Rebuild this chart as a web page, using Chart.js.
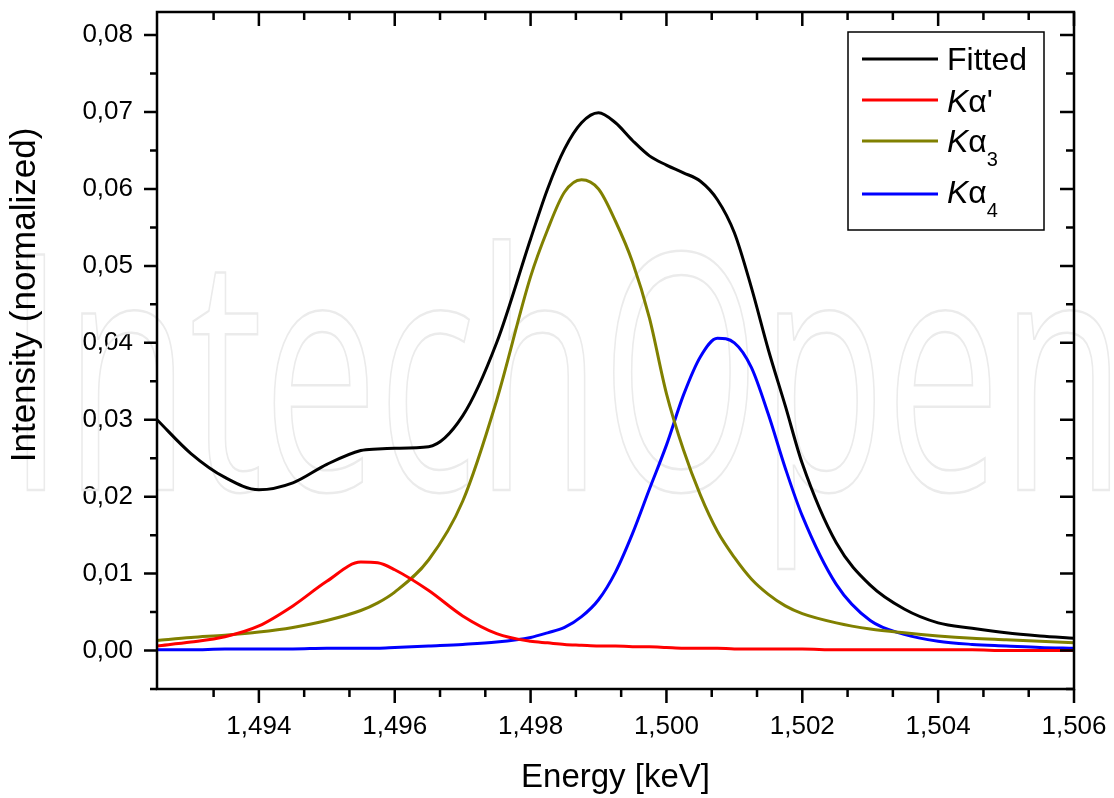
<!DOCTYPE html>
<html>
<head>
<meta charset="utf-8">
<script src="https://cdn.jsdelivr.net/npm/chart.js@4.4.0/dist/chart.umd.min.js"></script>
<style>
  body { margin: 0; background: #fff; }
</style>
</head>
<body>
<canvas id="spectrum" width="1114" height="798"></canvas>
<script>
// energy grid (keV) and the four curves
var energy = [1.4925, 1.493, 1.4935, 1.494, 1.4945, 1.495, 1.4955, 1.49575, 1.496, 1.4965,
              1.497, 1.4975, 1.498, 1.49825, 1.4985, 1.49875, 1.499, 1.49925, 1.4995, 1.49975,
              1.5, 1.50025, 1.5005, 1.50075, 1.501, 1.50125, 1.5015, 1.50175, 1.502, 1.5025,
              1.503, 1.5035, 1.504, 1.5045, 1.505, 1.5055, 1.506];
var fitted = [0.0300, 0.0256, 0.0225, 0.0209, 0.0218, 0.0242, 0.0260, 0.0262, 0.0263, 0.0265,
              0.0305, 0.0400, 0.0535, 0.0600, 0.0652, 0.0686, 0.0699, 0.0686, 0.0663, 0.0643,
              0.0631, 0.0621, 0.0610, 0.0586, 0.0543, 0.0472, 0.0391, 0.0318, 0.0243, 0.0140,
              0.0085, 0.0054, 0.0036, 0.0029, 0.0023, 0.0019, 0.0016];
var kaPrime = [0.0006, 0.0011, 0.0018, 0.0032, 0.0058, 0.0090, 0.0115, 0.0114, 0.0105, 0.0078,
               0.0045, 0.0022, 0.0012, 0.0010, 0.0008, 0.0007, 0.0006, 0.0006, 0.0005, 0.0005,
               0.0004, 0.0003, 0.0003, 0.0003, 0.0002, 0.0002, 0.0002, 0.0002, 0.0002, 0.0001,
               0.0001, 0.0001, 0.0001, 0.0001, 0.0000, 0.0000, 0.0000];
var ka3 = [0.0013, 0.0017, 0.0020, 0.0024, 0.0030, 0.0039, 0.0052, 0.0062, 0.0076, 0.0118,
           0.0194, 0.0325, 0.0486, 0.0547, 0.0596, 0.0612, 0.0600, 0.0558, 0.0505, 0.0432,
           0.0334, 0.0261, 0.0202, 0.0155, 0.0121, 0.0093, 0.0073, 0.0058, 0.0048, 0.0036,
           0.0028, 0.0023, 0.0019, 0.0016, 0.0014, 0.0012, 0.0010];
var ka4 = [0.0001, 0.0001, 0.0002, 0.0002, 0.0002, 0.0003, 0.0003, 0.0003, 0.0004, 0.0006,
           0.0008, 0.0011, 0.0017, 0.0023, 0.0030, 0.0044, 0.0066, 0.0102, 0.0152, 0.0210,
           0.0267, 0.0332, 0.0382, 0.0406, 0.0400, 0.0368, 0.0307, 0.0237, 0.0175, 0.0086,
           0.0039, 0.0021, 0.0012, 0.0008, 0.0006, 0.0004, 0.0003];

var xTicks = [1.494, 1.496, 1.498, 1.500, 1.502, 1.504, 1.506];
var yTicks = [0, 0.01, 0.02, 0.03, 0.04, 0.05, 0.06, 0.07, 0.08];

var FONT = "'Liberation Sans', Arial, sans-serif";

function pts(vals) {
  return energy.map(function (e, i) { return { x: e, y: vals[i] }; });
}

// keep chart area exactly where the frame sits in the original
function noPad(s) {
  s.paddingTop = 0; s.paddingBottom = 0; s.paddingLeft = 0; s.paddingRight = 0;
}

// faint publisher watermark behind the curves
var watermark = {
  id: 'watermark',
  beforeDatasetsDraw: function (chart) {
    var ctx = chart.ctx;
    ctx.save();
    ctx.font = "330px 'Open Sans', " + FONT;
    ctx.strokeStyle = '#ebebeb';
    ctx.lineWidth = 2.5;
    ctx.translate(190, 490);
    ctx.scale(0.62, 1);
    var w = ctx.measureText('In').width;
    ctx.strokeText('IntechOpen', -w, 0);
    ctx.restore();
  }
};

// Origin-style frame with major/minor ticks
var frame = {
  id: 'frame',
  afterDraw: function (chart) {
    var ctx = chart.ctx, a = chart.chartArea;
    var xs = chart.scales.x, ys = chart.scales.y;
    ctx.save();
    ctx.strokeStyle = '#000';
    ctx.lineWidth = 2.5;
    ctx.strokeRect(a.left, a.top, a.right - a.left, a.bottom - a.top);

    ctx.beginPath();
    var i, v, px, big;
    // x ticks: majors every 0.002, two minors between
    for (i = -1; i <= 20; i++) {
      v = 1.494 + i * 0.002 / 3;
      if (v < xs.min - 1e-9 || v > xs.max + 1e-9) continue;
      px = xs.getPixelForValue(v);
      big = (i % 3 === 0);
      ctx.moveTo(px, a.bottom); ctx.lineTo(px, a.bottom + (big ? 14 : 8));
      ctx.moveTo(px, a.top); ctx.lineTo(px, a.top + (big ? 14 : 8));
    }
    // y ticks: majors every 0.01, minor halfway
    for (i = -1; i <= 16; i++) {
      v = i * 0.005;
      px = ys.getPixelForValue(v);
      big = (i % 2 === 0);
      ctx.moveTo(a.left, px); ctx.lineTo(a.left - (big ? 13 : 7), px);
      ctx.moveTo(a.right, px); ctx.lineTo(a.right - (big ? 14 : 8), px);
    }
    ctx.stroke();

    // axis titles
    ctx.fillStyle = '#000';
    ctx.textAlign = 'center';
    ctx.textBaseline = 'alphabetic';
    ctx.font = '33px ' + FONT;
    ctx.fillText('Energy [keV]', (a.left + a.right) / 2, 787);
    ctx.save();
    ctx.font = '35px ' + FONT;
    ctx.translate(35, 295);
    ctx.rotate(-Math.PI / 2);
    ctx.fillText('Intensity (normalized)', 0, 0);
    ctx.restore();
    ctx.restore();
  }
};

// legend with italic K and subscripts
var legendBox = {
  id: 'legendBox',
  afterDraw: function (chart) {
    var ctx = chart.ctx;
    ctx.save();
    ctx.fillStyle = '#fff';
    ctx.fillRect(848, 32, 196, 198);
    ctx.strokeStyle = '#000';
    ctx.lineWidth = 1.5;
    ctx.strokeRect(848, 32, 196, 198);

    var rows = [
      { color: '#000000', y: 59, base: 70, main: 'Fitted' },
      { color: '#ff0000', y: 100, base: 112, tail: "α'" },
      { color: '#808000', y: 141, base: 152, tail: 'α', sub: '3' },
      { color: '#0000ff', y: 194, base: 203, tail: 'α', sub: '4' }
    ];
    ctx.textBaseline = 'alphabetic';
    ctx.textAlign = 'left';
    rows.forEach(function (r) {
      ctx.strokeStyle = r.color;
      ctx.lineWidth = 3;
      ctx.beginPath();
      ctx.moveTo(862, r.y); ctx.lineTo(938, r.y);
      ctx.stroke();
      ctx.fillStyle = '#000';
      var x = 947;
      if (r.main) {
        ctx.font = '32px ' + FONT;
        ctx.fillText(r.main, x, r.base);
        return;
      }
      ctx.font = 'italic 32px ' + FONT;
      ctx.fillText('K', x, r.base);
      x += ctx.measureText('K').width;
      ctx.font = '32px ' + FONT;
      ctx.fillText(r.tail, x, r.base);
      x += ctx.measureText(r.tail).width;
      if (r.sub) {
        ctx.font = '20px ' + FONT;
        ctx.fillText(r.sub, x, r.base + 14);
      }
    });
    ctx.restore();
  }
};

var chart = new Chart(document.getElementById('spectrum'), {
  type: 'line',
  data: {
    datasets: [
      { label: 'Fitted', data: pts(fitted), borderColor: '#000000' },
      { label: "Kα'", data: pts(kaPrime), borderColor: '#ff0000' },
      { label: 'Kα3', data: pts(ka3), borderColor: '#808000' },
      { label: 'Kα4', data: pts(ka4), borderColor: '#0000ff' }
    ]
  },
  options: {
    responsive: false,
    animation: false,
    layout: { padding: { top: 12, right: 40, left: 0, bottom: 0 } },
    elements: {
      point: { radius: 0 },
      line: { borderWidth: 3, cubicInterpolationMode: 'monotone', fill: false }
    },
    plugins: {
      legend: { display: false },
      tooltip: { enabled: false }
    },
    scales: {
      x: {
        type: 'linear',
        min: 1.4925,
        max: 1.506,
        afterBuildTicks: function (s) { s.ticks = xTicks.map(function (v) { return { value: v }; }); },
        afterFit: function (s) { s.height = 109; noPad(s); },
        grid: { display: false, drawTicks: false },
        border: { display: false },
        ticks: {
          padding: 22,
          color: '#000',
          maxRotation: 0,
          autoSkip: false,
          font: { family: FONT, size: 26 },
          callback: function (v) { return Number(v).toFixed(3).replace('.', ','); }
        }
      },
      y: {
        type: 'linear',
        min: -0.005,
        max: 0.083,
        afterBuildTicks: function (s) { s.ticks = yTicks.map(function (v) { return { value: v }; }); },
        afterFit: function (s) { s.width = 157; noPad(s); },
        grid: { display: false, drawTicks: false },
        border: { display: false },
        ticks: {
          padding: 24,
          color: '#000',
          autoSkip: false,
          font: { family: FONT, size: 26 },
          callback: function (v) { return Number(v).toFixed(2).replace('.', ','); }
        }
      }
    }
  },
  plugins: [watermark, frame, legendBox]
});
</script>
</body>
</html>
